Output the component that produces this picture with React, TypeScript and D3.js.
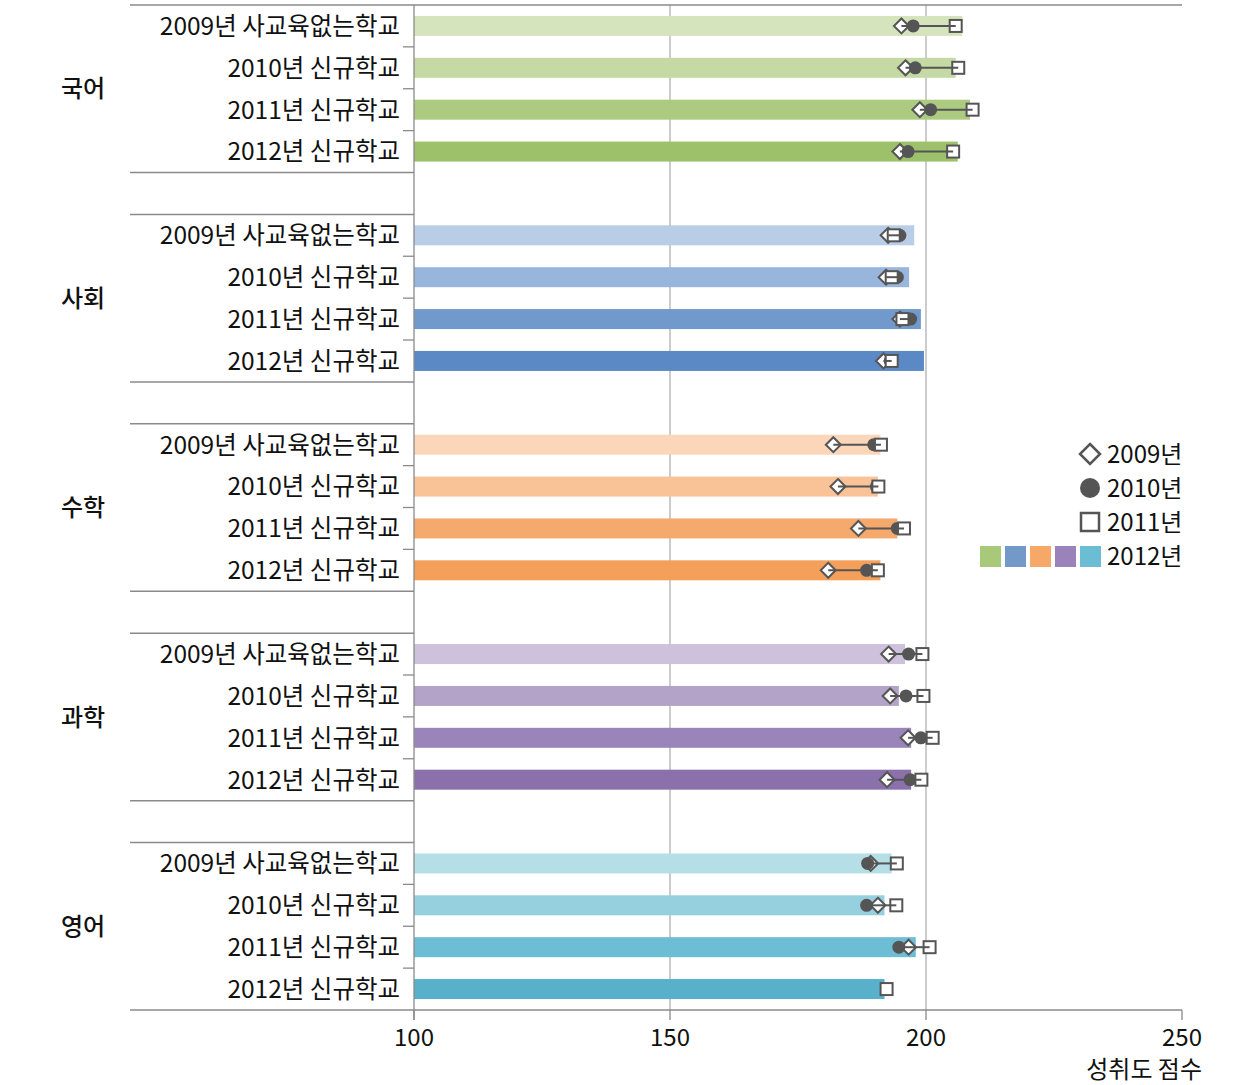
import React from "react";
import * as d3 from "d3";

const subjects = ["국어", "사회", "수학", "과학", "영어"];
const rowLabels = ["2009년 사교육없는학교", "2010년 신규학교", "2011년 신규학교", "2012년 신규학교"];

// 2012 bar values per subject (rows)
const bar2012 = [
  [207.1, 205.8, 208.6, 206.2],
  [197.7, 196.7, 199.0, 199.6],
  [191.1, 190.6, 194.4, 191.1],
  [195.9, 194.7, 197.1, 197.1],
  [193.3, 191.9, 198.0, 191.9],
];
const val2009: (number | null)[][] = [
  [195.2, 196.0, 198.8, 194.9],
  [192.6, 192.2, 194.9, 191.7],
  [181.9, 182.8, 186.8, 180.9],
  [192.7, 193.0, 196.5, 192.4],
  [189.2, 190.6, 196.6, null],
];
const val2010: (number | null)[][] = [
  [197.5, 197.9, 200.9, 196.5],
  [194.9, 194.4, 197.0, 193.0],
  [189.8, 190.3, 194.4, 188.4],
  [196.6, 196.1, 199.0, 196.9],
  [188.6, 188.4, 194.7, null],
];
const val2011: (number | null)[][] = [
  [205.8, 206.3, 209.1, 205.3],
  [193.7, 193.3, 195.4, 193.3],
  [191.2, 190.7, 195.7, 190.6],
  [199.3, 199.5, 201.3, 199.1],
  [194.3, 194.2, 200.7, 192.3],
];
const barColors = [
  ["#d6e4be", "#c4d9a3", "#adcb80", "#9dc16a"],
  ["#b9cde7", "#98b6dc", "#7199cc", "#5b89c5"],
  ["#fcd6b9", "#f9c297", "#f6a96c", "#f5a05a"],
  ["#cdc1dc", "#b4a3c9", "#9a85bb", "#8a71ab"],
  ["#b5dee7", "#96d0df", "#6dbdd4", "#58b0cb"],
];
const legendColors = ["#a9c97a", "#7399c9", "#f6a868", "#9a82bb", "#6bbdd3"];
const xTicks = [100, 150, 200, 250];
const legendLabels = ["2009년", "2010년", "2011년", "2012년"];

const W = 1240;
const H = 1085;
const FONT = "'Noto Sans CJK KR', 'Noto Sans', sans-serif";
const MARK = "#555555";

export default function App() {
  const x = d3.scaleLinear().domain([100, 250]).range([414, 1182]);
  const slots = d3.range(24);
  const y = d3.scaleBand<number>().domain(slots).range([5, 1010]).paddingInner(0).paddingOuter(0);
  const step = y.step();
  const barH = 20;

  const rows: any[] = [];
  subjects.forEach((s, g) => {
    rowLabels.forEach((lab, r) => {
      const slot = g * 5 + r;
      rows.push({ g, r, cy: (y(slot) as number) + step / 2, lab });
    });
  });

  const diamond = (cx: number, cy: number, s: number) =>
    `M${cx},${cy - s} L${cx + s},${cy} L${cx},${cy + s} L${cx - s},${cy} Z`;

  return (
    <svg width={W} height={H} style={{ position: "absolute", left: 0, top: 0 }} fontFamily={FONT}>
      <rect width={W} height={H} fill="#ffffff" />
      {/* gridlines */}
      {[150, 200].map((t) => (
        <line key={t} x1={x(t)} x2={x(t)} y1={5} y2={1010} stroke="#b0b0b0" strokeWidth={1.3} />
      ))}
      {/* bars */}
      {rows.map((d, i) => (
        <rect key={i} x={x(100)} y={d.cy - barH / 2} width={x(bar2012[d.g][d.r]) - x(100)} height={barH}
          fill={barColors[d.g][d.r]} />
      ))}
      {/* vertical axis line */}
      <line x1={x(100)} x2={x(100)} y1={5} y2={1020} stroke="#8a8a8a" strokeWidth={1.3} />
      {/* top line */}
      <line x1={130} x2={1182} y1={5} y2={5} stroke="#8a8a8a" strokeWidth={1.5} />
      {/* group separators */}
      {subjects.slice(0, 4).map((s, g) => (
        <g key={s}>
          <line x1={130} x2={x(100)} y1={5 + step * (g * 5 + 4)} y2={5 + step * (g * 5 + 4)} stroke="#8a8a8a" strokeWidth={1.5} />
          <line x1={130} x2={x(100)} y1={5 + step * (g * 5 + 5)} y2={5 + step * (g * 5 + 5)} stroke="#8a8a8a" strokeWidth={1.5} />
        </g>
      ))}
      {/* small ticks between rows */}
      {subjects.map((s, g) =>
        [1, 2, 3].map((r) => (
          <line key={s + r} x1={403} x2={x(100)} y1={5 + step * (g * 5 + r)} y2={5 + step * (g * 5 + r)} stroke="#8a8a8a" strokeWidth={1.3} />
        ))
      )}
      {/* bottom axis */}
      <line x1={130} x2={1182} y1={1010} y2={1010} stroke="#8a8a8a" strokeWidth={1.5} />
      {xTicks.map((t) => (
        <g key={t}>
          <line x1={x(t)} x2={x(t)} y1={1010} y2={1020} stroke="#8a8a8a" strokeWidth={1.3} />
          <text x={x(t)} y={1046} textAnchor="middle" fontSize={24} fill="#111">{t}</text>
        </g>
      ))}
      <text x={1202} y={1078} textAnchor="end" fontSize={24} fill="#111">성취도 점수</text>
      {/* row labels */}
      {rows.map((d, i) => (
        <text key={i} x={400} y={d.cy} dy="0.36em" textAnchor="end" fontSize={24.5} fill="#111">{d.lab}</text>
      ))}
      {/* group labels */}
      {subjects.map((s, g) => (
        <text key={s} x={83} y={5 + step * (g * 5 + 2)} dy="0.36em" textAnchor="middle" fontSize={24} fontWeight={500} fill="#111">{s}</text>
      ))}
      {/* markers */}
      {rows.map((d, i) => {
        const a = val2009[d.g][d.r];
        const b = val2010[d.g][d.r];
        const c = val2011[d.g][d.r];
        const vals = [a, b, c].filter((v) => v != null) as number[];
        const lo = d3.min(vals) as number;
        const hi = d3.max(vals) as number;
        return (
          <g key={i}>
            {a != null && (
              <path d={diamond(x(a), d.cy, 7.5)} fill="#fff" stroke={MARK} strokeWidth={2} />
            )}
            {b != null && <circle cx={x(b)} cy={d.cy} r={6.5} fill={MARK} />}
            {c != null && (
              <rect x={x(c) - 6} y={d.cy - 6} width={12} height={12} fill="#fff" stroke={MARK} strokeWidth={2} />
            )}
            {vals.length > 1 && (
              <line x1={x(lo)} x2={x(hi)} y1={d.cy} y2={d.cy} stroke={MARK} strokeWidth={2} />
            )}
          </g>
        );
      })}
      {/* legend */}
      <g>
        <path d={diamond(1090, 454, 10)} fill="#fff" stroke={MARK} strokeWidth={2.5} />
        <circle cx={1090} cy={488} r={10} fill={MARK} />
        <rect x={1081} y={513} width={18} height={18} fill="#fff" stroke={MARK} strokeWidth={2.5} />
        {legendColors.map((c, i) => (
          <rect key={c} x={980 + i * 25} y={546} width={21} height={21} fill={c} />
        ))}
        {legendLabels.map((l, i) => (
          <text key={l} x={1107} y={[454, 488, 522, 556][i]} dy="0.36em" fontSize={24} fill="#111">{l}</text>
        ))}
      </g>
    </svg>
  );
}
